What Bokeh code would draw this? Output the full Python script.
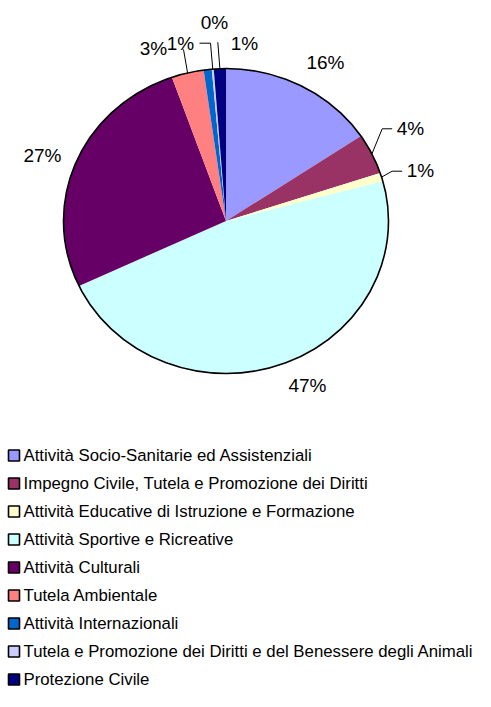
import math
from bokeh.plotting import figure
from bokeh.models import Range1d
from bokeh.core.properties import value
from bokeh.embed import file_html
from bokeh.resources import INLINE

# ---- data ----
categories = [
    "Attività Socio-Sanitarie ed Assistenziali",
    "Impegno Civile, Tutela e Promozione dei Diritti",
    "Attività Educative di Istruzione e Formazione",
    "Attività Sportive e Ricreative",
    "Attività Culturali",
    "Tutela Ambientale",
    "Attività Internazionali",
    "Tutela e Promozione dei Diritti e del Benessere degli Animali",
    "Protezione Civile",
]
shares = [15.6, 4.3, 0.9, 47.2, 26.6, 3.2, 0.8, 0.2, 1.2]
colors = ["#9999FF", "#993366", "#FFFFCC", "#CCFFFF", "#660066",
          "#FF8080", "#0066CC", "#CCCCFF", "#000080"]

# ---- layout (pixel coordinates inside the figure) ----
W, H = 475, 691
def Y(py):
    return H - py

CX, CY, RX, RY = 225.5, 220.5, 162.5, 152.5
label_pos = [(325, 62), (410, 128), (420, 170), (307, 385), (42, 155),
             (153, 48), (180, 43), (214, 22), (244, 43)]
# leader elbows (None = no leader)
leaders = [None, [(381.7, 128.3), (391.7, 128.3)], [(391.7, 170.7), (401.7, 170.7)],
           None, None, [(183, 49)], None, [(210, 42.7), (199, 42.7)], [(217.3, 41.7)]]

p = figure(width=W, height=H, output_backend="svg", toolbar_location=None,
           x_range=Range1d(0, W), y_range=Range1d(0, H),
           min_border=0, min_border_left=0, min_border_right=0,
           min_border_top=0, min_border_bottom=0)
p.axis.visible = False
p.grid.visible = False
p.outline_line_color = None
p.background_fill_color = "white"

total = sum(shares)
xs, ys, mids = [], [], []
cum = 0.0
for v in shares:
    t0 = cum / total * 2 * math.pi
    cum += v
    t1 = cum / total * 2 * math.pi
    n = max(2, int(math.degrees(t1 - t0)) + 2)
    px = [CX]
    py = [Y(CY)]
    for k in range(n + 1):
        t = t0 + (t1 - t0) * k / n
        px.append(CX + RX * math.sin(t))
        py.append(Y(CY) + RY * math.cos(t))
    xs.append(px)
    ys.append(py)
    mids.append((t0 + t1) / 2)

p.patches(xs=xs, ys=ys, fill_color=colors, line_color=None)
p.ellipse(x=[CX], y=[Y(CY)], width=[2 * RX], height=[2 * RY],
          fill_color=None, line_color="black", line_width=1.6)

lx, ly = [], []
for i, el in enumerate(leaders):
    if el is None:
        continue
    t = mids[i]
    sx = CX + RX * math.sin(t)
    sy = CY - RY * math.cos(t)
    pts = [(sx, sy)] + el
    lx.append([q[0] for q in pts])
    ly.append([Y(q[1]) for q in pts])
p.multi_line(xs=lx, ys=ly, line_color="black", line_width=1)

labels = [f"{round(v)}%" for v in shares]
p.text(x=[q[0] for q in label_pos], y=[Y(q[1]) for q in label_pos], text=labels,
       text_font=value("Liberation Sans"), text_font_size="19px",
       text_align="center", text_baseline="middle", text_color="black")

# legend
L0, LSTEP = 455, 28
rows = [L0 + i * LSTEP for i in range(len(categories))]
p.rect(x=[13.5] * len(categories), y=[Y(r) for r in rows], width=11, height=11,
       fill_color=colors, line_color="black", line_width=1.6)
p.text(x=[23] * len(categories), y=[Y(r) for r in rows], text=categories,
       text_font=value("Liberation Sans"), text_font_size="16.8px",
       text_align="left", text_baseline="middle", text_color="black")

open("out.html", "w").write(file_html(p, INLINE))
